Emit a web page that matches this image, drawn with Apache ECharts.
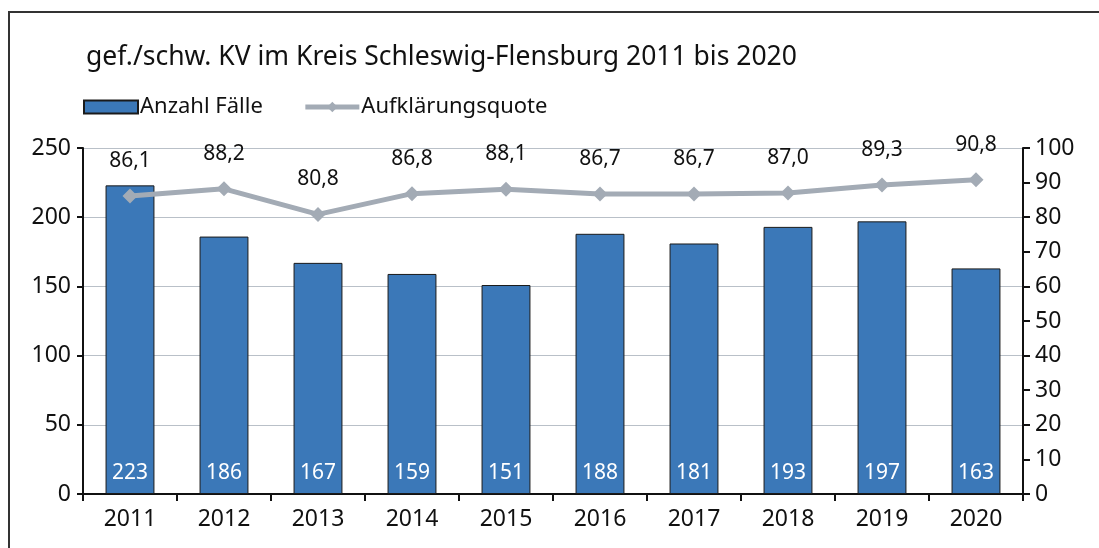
<!DOCTYPE html>
<html>
<head>
<meta charset="utf-8">
<script src="https://cdn.jsdelivr.net/npm/echarts@6/dist/echarts.min.js"></script>
<style>
  html, body { margin: 0; padding: 0; background: #fff; overflow: hidden; }
  #frame { position: absolute; left: 8px; top: 11px; width: 1200px; height: 600px; border: 2px solid #333; box-sizing: border-box; }
  #chart { position: absolute; left: 0; top: 0; width: 1099px; height: 548px; }
</style>
</head>
<body>
<div id="frame"></div>
<div id="chart"></div>
<script>
const years = ['2011', '2012', '2013', '2014', '2015', '2016', '2017', '2018', '2019', '2020'];
const cases = [223, 186, 167, 159, 151, 188, 181, 193, 197, 163];
const clearanceRate = [86.1, 88.2, 80.8, 86.8, 88.1, 86.7, 86.7, 87.0, 89.3, 90.8];

const font = '"Noto Sans", Lato, sans-serif';
const chart = echarts.init(document.getElementById('chart'));

chart.setOption({
    animation: false,
    textStyle: { fontFamily: font, color: '#111' },
    title: {
        text: 'gef./schw. KV im Kreis Schleswig-Flensburg 2011 bis 2020',
        left: 81,
        top: 39,
        textStyle: { fontFamily: font, fontSize: 26.5, fontWeight: 'normal', color: '#111' }
    },
    legend: {
        left: 78,
        top: 91,
        itemGap: 40,
        itemWidth: 54,
        itemHeight: 13,
        textStyle: { fontFamily: font, fontSize: 22, color: '#111', padding: [0, 0, 0, -3] },
        data: [
            { name: 'Anzahl Fälle', icon: 'rect' },
            { name: 'Aufklärungsquote', lineStyle: { width: 5 } }
        ]
    },
    grid: { left: 83, right: 76, top: 148, bottom: 54 },
    xAxis: {
        type: 'category',
        data: years,
        axisLine: { lineStyle: { color: '#111', width: 2 } },
        axisTick: { show: true, length: 7, lineStyle: { color: '#111', width: 2 } },
        axisLabel: { fontSize: 23, color: '#111', margin: 14 }
    },
    yAxis: [
        {
            type: 'value',
            min: 0, max: 250, interval: 50,
            axisLine: { show: true, lineStyle: { color: '#111', width: 2 } },
            axisTick: { show: true, length: 6, lineStyle: { color: '#111', width: 2 } },
            axisLabel: { fontSize: 23, color: '#111', margin: 12 },
            splitLine: { lineStyle: { color: '#b9c0c8', width: 1 } }
        },
        {
            type: 'value',
            min: 0, max: 100, interval: 10,
            axisLine: { show: true, lineStyle: { color: '#111', width: 2 } },
            axisTick: { show: true, length: 7, lineStyle: { color: '#111', width: 2 } },
            axisLabel: { fontSize: 23, color: '#111', margin: 12 },
            splitLine: { show: false }
        }
    ],
    series: [
        {
            name: 'Anzahl Fälle',
            type: 'bar',
            data: cases,
            barWidth: '52%',
            itemStyle: { color: '#3b78b8', borderColor: '#1a1a1a', borderWidth: 1 },
            label: {
                show: true,
                position: 'insideBottom',
                distance: 10,
                color: '#fff',
                fontSize: 21,
                fontFamily: font
            }
        },
        {
            name: 'Aufklärungsquote',
            type: 'line',
            yAxisIndex: 1,
            data: clearanceRate,
            symbol: 'diamond',
            symbolSize: 15,
            lineStyle: { color: '#a3abb5', width: 5 },
            itemStyle: { color: '#a3abb5' },
            label: {
                show: true,
                position: 'top',
                distance: 17,
                color: '#111',
                fontSize: 21,
                fontFamily: font,
                formatter: p => p.value.toFixed(1).replace('.', ',')
            }
        }
    ]
});
</script>
</body>
</html>
